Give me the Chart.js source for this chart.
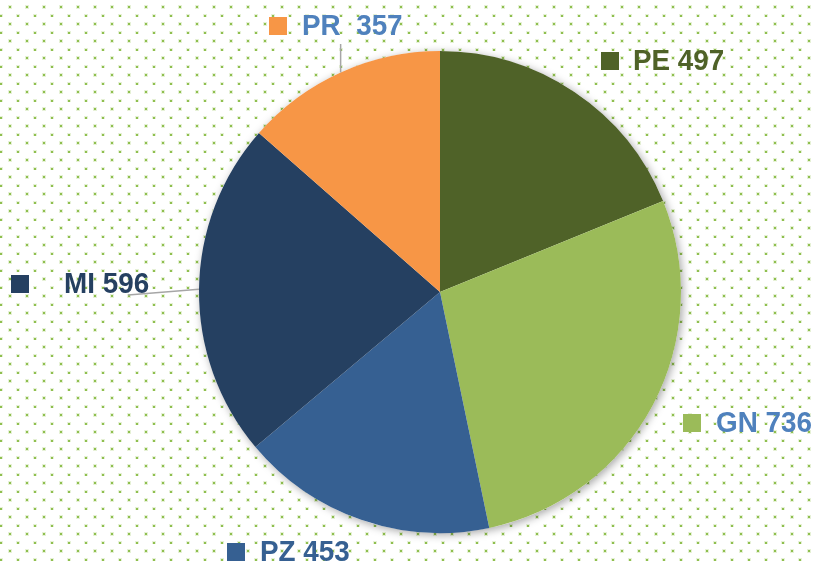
<!DOCTYPE html>
<html>
<head>
<meta charset="utf-8">
<script src="https://cdn.jsdelivr.net/npm/chart.js@4"></script>
<style>
  html, body { margin: 0; padding: 0; background: #fff; }
  #wrap { width: 815px; height: 563px; }
</style>
</head>
<body>
<div id="wrap"><canvas id="pie"></canvas></div>
<script>
// Data, clockwise from 12 o'clock.
var categories = ['PE', 'GN', 'PZ', 'MI', 'PR'];
var values = [497, 736, 453, 596, 357];

// Styling.
var sliceColors = ['#4f6228', '#9bbb59', '#366092', '#254061', '#f79646'];
var labelColors = ['#4f6228', '#4f81bd', '#366092', '#254061', '#4f81bd'];
var labelSep = [' ', ' ', ' ', ' ', '  '];
// label anchor (square left edge, vertical centre) relative to pie centre, px
var labelOffsets = [[161, -231], [243, 131], [-213, 260], [-429, -8], [-171, -266]];
var textGap = [14, 15, 15, 35, 15];
// leader line elbow (null = none), relative to pie centre
var leaderEnds = [null, null, null, [-312, 3], [-100, -248]];

var dotBackground = {
  id: 'dotBackground',
  beforeDraw: function (chart) {
    var ctx = chart.ctx;
    var tile = document.createElement('canvas');
    tile.width = 17;
    tile.height = 17;
    var t = tile.getContext('2d');
    t.fillStyle = 'rgba(155,200,90,0.25)';
    t.fillRect(8, 5, 4, 4);
    t.fillRect(-1, 14, 4, 4);
    t.fillRect(16, 14, 4, 4);
    t.fillStyle = '#8fbf4f';
    t.fillRect(9, 6, 2, 2);
    t.fillRect(0, 15, 2, 2);
    t.fillRect(17, 15, 2, 2);
    ctx.save();
    ctx.fillStyle = '#ffffff';
    ctx.fillRect(0, 0, chart.width, chart.height);
    ctx.fillStyle = ctx.createPattern(tile, 'repeat');
    ctx.fillRect(0, 0, chart.width, chart.height);
    ctx.restore();
  }
};

var pieShadow = {
  id: 'pieShadow',
  beforeDatasetsDraw: function (chart) {
    var arc = chart.getDatasetMeta(0).data[0];
    var ctx = chart.ctx;
    ctx.save();
    ctx.shadowColor = 'rgba(0,0,0,0.35)';
    ctx.shadowBlur = 9;
    ctx.shadowOffsetX = 2;
    ctx.shadowOffsetY = 2;
    ctx.fillStyle = '#ffffff';
    ctx.beginPath();
    ctx.arc(arc.x, arc.y, arc.outerRadius, 0, Math.PI * 2);
    ctx.fill();
    ctx.restore();
  }
};

var outsideLabels = {
  id: 'outsideLabels',
  afterDatasetsDraw: function (chart) {
    var ctx = chart.ctx;
    var meta = chart.getDatasetMeta(0);
    ctx.save();
    meta.data.forEach(function (arc, i) {
      var cx = arc.x, cy = arc.y;
      // leader line from slice edge at mid angle
      if (leaderEnds[i]) {
        var mid = (arc.startAngle + arc.endAngle) / 2;
        var ex = cx + Math.cos(mid) * arc.outerRadius;
        var ey = cy + Math.sin(mid) * arc.outerRadius;
        var lx = cx + leaderEnds[i][0];
        var ly = cy + leaderEnds[i][1];
        ctx.strokeStyle = '#a6a6a6';
        ctx.lineWidth = 1.5;
        ctx.beginPath();
        ctx.moveTo(ex, ey);
        if (Math.abs(lx - ex) < 3) {
          ctx.lineTo(ex, ly);
        } else {
          ctx.lineTo(lx, ly);
        }
        ctx.stroke();
      }
      var sx = cx + labelOffsets[i][0];
      var sy = cy + labelOffsets[i][1];
      ctx.fillStyle = sliceColors[i];
      ctx.fillRect(sx, sy - 9, 18, 18);
      // slightly condensed bold text, closer to the narrow original face
      ctx.save();
      ctx.translate(sx + 18 + textGap[i], sy + 1);
      ctx.scale(0.96, 1);
      ctx.font = 'bold 29px "Liberation Sans", Arial, sans-serif';
      ctx.textBaseline = 'middle';
      ctx.textAlign = 'left';
      ctx.fillStyle = labelColors[i];
      ctx.fillText(categories[i] + labelSep[i] + values[i], 0, 0);
      ctx.restore();
    });
    ctx.restore();
  }
};

new Chart(document.getElementById('pie'), {
  type: 'pie',
  data: {
    labels: categories,
    datasets: [{
      data: values,
      backgroundColor: sliceColors,
      borderWidth: 0
    }]
  },
  options: {
    responsive: true,
    maintainAspectRatio: false,
    animation: false,
    layout: {
      padding: { top: 51, bottom: 30, left: 199, right: 134 }
    },
    plugins: {
      legend: { display: false },
      tooltip: { enabled: false }
    }
  },
  plugins: [dotBackground, pieShadow, outsideLabels]
});
</script>
</body>
</html>
